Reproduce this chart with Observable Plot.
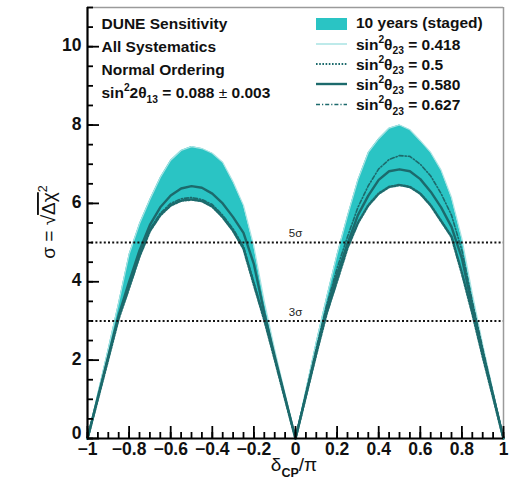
<!DOCTYPE html>
<html><head><meta charset="utf-8">
<script src="https://cdn.jsdelivr.net/npm/d3@7"></script>
<script src="https://cdn.jsdelivr.net/npm/@observablehq/plot@0.6"></script>
<style>
html,body{margin:0;padding:0;background:#fff;}
svg{font-family:"Liberation Sans",Arial,Helvetica,sans-serif;}
</style>
</head><body>
<div id="chart"></div>
<script>
// δCP/π sample points
const delta = [-1,-0.95,-0.9,-0.85,-0.8,-0.75,-0.7,-0.65,-0.6,-0.55,-0.5,-0.45,-0.4,-0.35,-0.3,-0.25,-0.2,-0.15,-0.1,-0.05,0,
  0.05,0.1,0.15,0.2,0.25,0.3,0.35,0.4,0.45,0.5,0.55,0.6,0.65,0.7,0.75,0.8,0.85,0.9,0.95,1];
// sin²θ23 = 0.418 (upper edge of the band)
const s418 = [0,1.15,2.29,3.47,4.70,5.48,6.10,6.66,7.10,7.35,7.45,7.40,7.28,7.05,6.55,5.95,4.90,3.50,2.27,1.14,0,
  1.23,2.46,3.61,4.70,5.68,6.60,7.30,7.65,7.92,8.00,7.88,7.60,7.30,6.85,6.15,5.10,3.70,2.40,1.20,0];
// sin²θ23 = 0.5 (lower edge of the band)
const s500 = [0,1.02,2.04,3.07,3.85,4.65,5.30,5.70,5.95,6.07,6.10,6.06,5.92,5.65,5.30,4.85,3.93,3.03,2.03,1.01,0,
  1.09,2.17,3.20,4.03,4.87,5.50,5.95,6.25,6.42,6.47,6.42,6.25,5.95,5.55,5.15,4.22,3.20,2.10,1.06,0];
// sin²θ23 = 0.580
const s580 = [0,1.05,2.10,3.15,4.00,4.80,5.45,5.90,6.20,6.38,6.44,6.40,6.25,6.00,5.65,5.25,4.45,3.20,2.10,1.05,0,
  1.10,2.20,3.30,4.20,4.97,5.70,6.20,6.60,6.82,6.87,6.82,6.62,6.30,5.90,5.40,4.60,3.35,2.20,1.10,0];
// sin²θ23 = 0.627
const s627 = [0,1.03,2.06,3.10,3.90,4.70,5.35,5.75,6.00,6.12,6.15,6.10,5.97,5.70,5.35,4.90,3.98,3.06,2.05,1.02,0,
  1.15,2.30,3.40,4.35,5.15,5.90,6.45,6.88,7.12,7.22,7.20,7.00,6.70,6.25,5.70,4.80,3.50,2.30,1.15,0];

const xMajor = [-1,-0.8,-0.6,-0.4,-0.2,0,0.2,0.4,0.6,0.8,1];
const xLabels = ["−1","−0.8","−0.6","−0.4","−0.2","0","0.2","0.4","0.6","0.8","1"];
const xMinor = d3.range(-1, 1.0001, 0.05).map(v => +v.toFixed(2));
const yMajor = [0,2,4,6,8,10];
const yLabels = ["0","2","4","6","8","10"];
const yMinor = d3.range(0, 11.0001, 0.5);
const sigmaLines = [5, 3];
const sigmaLabels = ["5σ", "3σ"];

const legendItems = [
  {label: "0.418", kind: "light"},
  {label: "0.5", kind: "dotted"},
  {label: "0.580", kind: "solid"},
  {label: "0.627", kind: "dashdot"}
];

const band = "#2ac4c4";
const dark = "#1c6a6c";
const light = "#a9e3e3";

const data = delta.map((d, i) => ({d, s418: s418[i], s500: s500[i], s580: s580[i], s627: s627[i]}));
const xl = xMajor.map((v, i) => ({v, t: xLabels[i]}));
const yl = yMajor.map((v, i) => ({v, t: yLabels[i]}));
const sl = sigmaLines.map((v, i) => ({v, t: sigmaLabels[i]}));

const W = 514, H = 487, mT = 7, mB = 49, mL = 87, mR = 11;
const frameW = W - mL - mR, frameH = H - mT - mB;

const plot = Plot.plot({
  width: W, height: H,
  marginTop: mT, marginBottom: mB, marginLeft: mL, marginRight: mR,
  x: {domain: [-1, 1]},
  y: {domain: [0, 11]},
  axis: null,
  marks: [
    Plot.areaY(data, {x: "d", y1: "s500", y2: "s418", fill: band, fillOpacity: 1}),
    Plot.line(data, {x: "d", y: "s418", stroke: light, strokeWidth: 1.2}),
    Plot.line(data, {x: "d", y: "s627", stroke: dark, strokeWidth: 1.6, strokeDasharray: "4,2,1.2,2"}),
    Plot.line(data, {x: "d", y: "s500", stroke: dark, strokeWidth: 2.6, strokeDasharray: "1.6,1.6"}),
    Plot.line(data, {x: "d", y: "s580", stroke: dark, strokeWidth: 2.4}),
    Plot.ruleY(sl, {y: "v", stroke: "#111", strokeWidth: 2, strokeDasharray: "2,2.2"}),
    Plot.text(sl, {y: "v", x: 0, text: "t", dy: -9, fontSize: 11.5, fill: "#222"}),
    // frame
    Plot.ruleX([1], {stroke: "#9a9a9a", strokeWidth: 1.5}),
    Plot.ruleY([11], {stroke: "#9a9a9a", strokeWidth: 1.5}),
    Plot.ruleX([-1], {stroke: "#000", strokeWidth: 2.2}),
    Plot.ruleY([0], {stroke: "#000", strokeWidth: 2.2}),
    // inward ticks
    Plot.tickX(xMinor, {x: d => d, insetTop: frameH - 6, stroke: "#000", strokeWidth: 1.8}),
    Plot.tickX(xMajor, {x: d => d, insetTop: frameH - 12, stroke: "#000", strokeWidth: 1.8}),
    Plot.tickY(yMinor, {y: d => d, insetRight: frameW - 6, stroke: "#000", strokeWidth: 1.8}),
    Plot.tickY(yMajor, {y: d => d, insetRight: frameW - 12, stroke: "#000", strokeWidth: 1.8}),
    // tick labels
    Plot.text(xl, {x: "v", text: "t", frameAnchor: "bottom", dy: 16, fontSize: 17.5, fontWeight: "bold", fill: "#111"}),
    Plot.text(yl.filter(d => d.v !== 0), {y: "v", text: "t", frameAnchor: "left", dx: -6, dy: -1, textAnchor: "end", fontSize: 17.5, fontWeight: "bold", fill: "#111"}),
    Plot.text(yl.filter(d => d.v === 0), {y: "v", text: "t", frameAnchor: "left", dx: -6, dy: -5, textAnchor: "end", fontSize: 17.5, fontWeight: "bold", fill: "#111"})
  ]
});
document.getElementById("chart").appendChild(plot);

const svg = d3.select(plot);
function rich(g, x, y, parts, size, weight, anchor) {
  const t = g.append("text").attr("x", x).attr("y", y)
    .attr("font-size", size).attr("font-weight", weight)
    .attr("text-anchor", anchor || "start").attr("fill", "#111");
  let shift = 0;
  for (const [s, k, extra] of parts) {
    const target = k === "sup" ? -0.42 * size : k === "sub" ? 0.32 * size : 0;
    const ts = t.append("tspan").text(s).attr("dy", target - shift);
    if (k) ts.attr("font-size", size * 0.66);
    if (extra) for (const a in extra) ts.attr(a, extra[a]);
    shift = target;
  }
  return t;
}

// left info block
const info = svg.append("g");
const fs = 15.5;
rich(info, 101.5, 29, [["DUNE Sensitivity"]], fs, "bold");
rich(info, 101.5, 52, [["All Systematics"]], fs, "bold");
rich(info, 101.5, 75, [["Normal Ordering"]], fs, "bold");
rich(info, 101.5, 98, [["sin"], ["2", "sup"], ["2θ"], ["13", "sub"], [" = 0.088 "], ["±", "", {"font-weight": "normal"}], [" 0.003"]], fs, "bold");

// legend
const lg = svg.append("g");
lg.append("rect").attr("x", 316).attr("y", 18).attr("width", 31).attr("height", 12).attr("fill", band);
rich(lg, 356, 28, [["10 years (staged)"]], fs, "bold");
const rowsY = [49.5, 69.5, 89.5, 110];
legendItems.forEach((it, i) => {
  const yy = rowsY[i] - 5.5;
  const ln = lg.append("line").attr("x1", 316).attr("x2", 347).attr("y1", yy).attr("y2", yy);
  if (it.kind === "light") ln.attr("stroke", light).attr("stroke-width", 1.5);
  if (it.kind === "dotted") ln.attr("stroke", dark).attr("stroke-width", 2.2).attr("stroke-dasharray", "1.6,1.6");
  if (it.kind === "solid") ln.attr("stroke", dark).attr("stroke-width", 2.4);
  if (it.kind === "dashdot") ln.attr("stroke", dark).attr("stroke-width", 1.6).attr("stroke-dasharray", "4,2,1.2,2");
  rich(lg, 356, rowsY[i], [["sin"], ["2", "sup"], ["θ"], ["23", "sub"], [" = " + it.label]], fs, "bold");
});

// x axis title
rich(svg.append("g"), 294, 471, [["δ"], ["CP", "sub", {"font-weight": "bold"}], ["/π"]], 19, "normal", "middle");

// y axis title
const yt = svg.append("g").attr("transform", "translate(55,222) rotate(-90)");
rich(yt, 0, 0, [["σ = √"], ["Δχ", "", {"text-decoration": "overline"}], ["2", "sup"]], 19, "normal", "middle");
</script>
</body></html>
